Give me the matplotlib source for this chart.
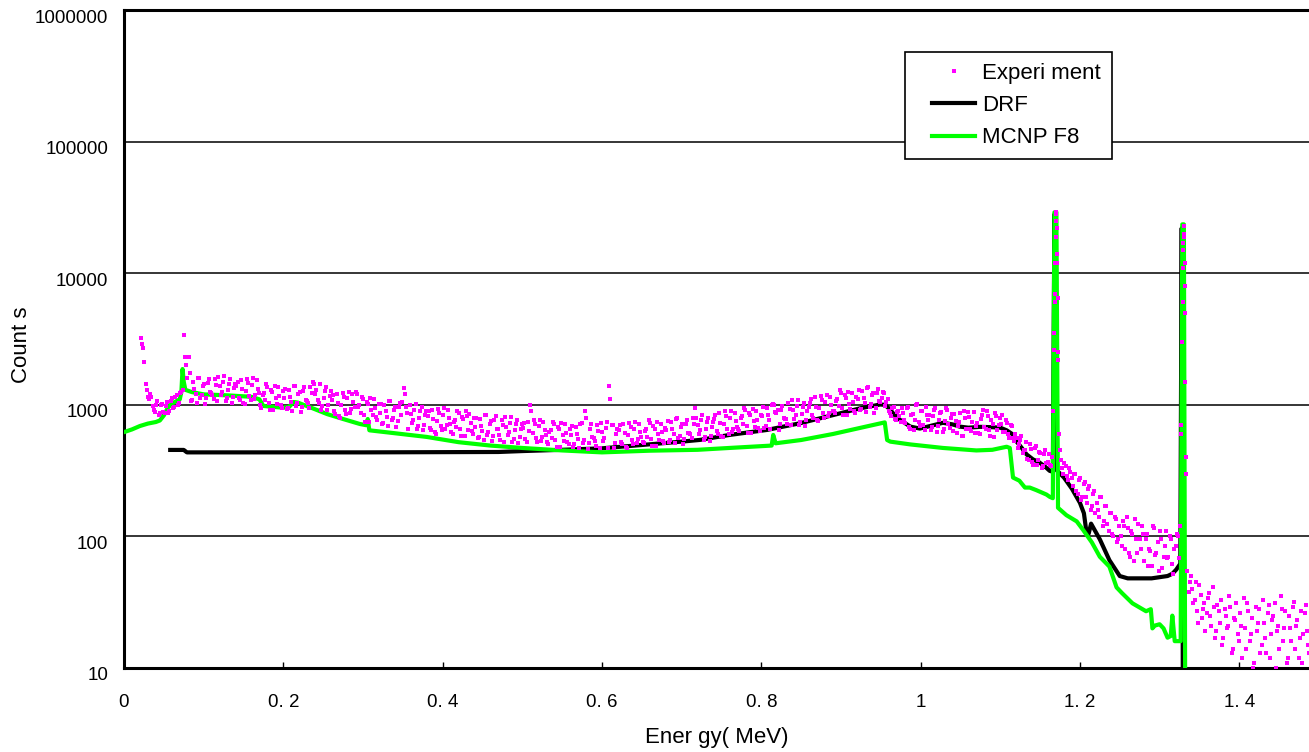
import numpy as np
import matplotlib
matplotlib.use("Agg")
import matplotlib.pyplot as plt
from matplotlib import transforms
from matplotlib.lines import Line2D
from matplotlib.legend_handler import HandlerLine2D
from matplotlib.ticker import NullLocator

FONT = ['Liberation Sans', 'DejaVu Sans']
plt.rcParams['font.family'] = FONT

# ---------------- data ----------------
# Experiment: channel energies start at 0.021 MeV, 0.003 MeV apart
exp_start = 0.021
exp_step = 0.003
exp_counts = [
    3200, 2700, 1450, 1150, 1200, 980, 880, 1060, 860, 1010,
    870, 1050, 900, 1120, 960, 1180, 1030, 1250, 3400, 2000,
    2300, 1070, 1500, 1210, 1590, 1130, 1380, 1010, 1460, 1250,
    1190, 1560, 1060, 1390, 1250, 1650, 1120, 1450, 1040, 1350,
    1380, 1130, 1540, 1040, 1270, 1460, 1080, 1590, 1180, 1330,
    990, 1180, 1080, 1370, 920, 1250, 1390, 1020, 1160, 950,
    1130, 930, 1300, 1050, 1380, 980, 1200, 880, 1270, 1080,
    1040, 1360, 1480, 1210, 1090, 1440, 980, 1270, 910, 1170,
    1090, 890, 1210, 820, 1000, 1150, 850, 1250, 930, 1050,
    1250, 960, 870, 1110, 740, 1010, 1130, 830, 940, 770,
    870, 710, 1000, 810, 1060, 760, 920, 680, 970, 840,
    1350, 960, 650, 850, 770, 1010, 690, 890, 640, 830,
    820, 670, 910, 620, 750, 870, 640, 940, 700, 790,
    620, 740, 680, 860, 580, 780, 900, 640, 730, 600,
    680, 560, 780, 630, 830, 590, 720, 530, 760, 650,
    590, 770, 520, 680, 620, 810, 550, 720, 510, 660,
    670, 550, 740, 1000, 610, 710, 520, 770, 570, 640,
    520, 620, 560, 710, 480, 650, 730, 530, 610, 500,
    590, 480, 680, 550, 720, 510, 900, 460, 660, 570,
    530, 700, 470, 620, 560, 740, 1380, 700, 470, 600,
    640, 520, 710, 480, 590, 680, 500, 740, 550, 620,
    520, 630, 570, 730, 490, 660, 740, 540, 620, 510,
    640, 520, 740, 600, 780, 560, 680, 500, 720, 610,
    600, 790, 950, 700, 640, 840, 570, 740, 530, 680,
    780, 630, 860, 580, 710, 820, 600, 890, 660, 750,
    660, 790, 720, 910, 610, 830, 930, 680, 770, 630,
    820, 670, 940, 760, 1000, 1000, 870, 640, 920, 790,
    780, 1030, 700, 910, 830, 1090, 740, 960, 690, 890,
    1030, 840, 1140, 770, 940, 1080, 800, 1180, 870, 990,
    890, 1070, 980, 1240, 830, 1130, 1260, 930, 1050, 860,
    1110, 910, 1280, 1030, 1350, 970, 1180, 870, 1240, 1070,
    1130, 1240, 1050, 900, 820, 960, 760, 900, 740, 860,
    730, 960, 650, 850, 770, 1010, 690, 890, 640, 830,
    830, 680, 920, 620, 760, 880, 650, 950, 710, 800,
    630, 750, 690, 870, 580, 800, 880, 650, 740, 610,
    730, 600, 840, 680, 890, 640, 770, 570, 820, 700,
    720, 620, 760, 600, 700, 560, 600, 470, 540, 430,
    450, 390, 500, 370, 470, 350, 440, 330, 420, 360,
    420, 340, 3500, 28000, 2200, 380, 300, 340, 270, 310,
    240, 300, 210, 280, 200, 260, 180, 240, 170, 220,
    180, 140, 200, 130, 170, 110, 150, 100, 135, 95,
    100, 130, 80, 115, 70, 105, 135, 75, 95, 120,
    65, 105, 80, 60, 115, 75, 55, 95, 70, 110,
    70, 95, 52, 85, 100, 120, 15000, 8000, 55, 45,
    40, 33, 27, 43, 24, 31, 26, 37, 21, 29,
    19, 27, 33, 17, 25, 21, 29, 14, 23, 18,
    26, 12, 20, 31, 16, 24, 11, 19, 28, 15,
    22, 13, 30, 18, 25, 10, 21, 35, 16, 27,
    12, 20, 29, 14, 23, 17, 11, 26, 19, 13,
]
# the in-between channels: start at 0.0225 MeV, same 0.003 MeV spacing
exp_mid_start = 0.0225
exp_mid_counts = [
    2900, 2100, 1300, 1100, 1150, 920, 1000, 830, 990, 880,
    980, 860, 1060, 940, 1140, 1000, 1220, 1300, 2300, 1600,
    1750, 1090, 1330, 1030, 1600, 1180, 1440, 1120, 1560, 1240,
    1100, 1410, 1640, 1190, 1490, 1060, 1290, 1560, 1150, 1450,
    1500, 1080, 1310, 1010, 1570, 1160, 1420, 1100, 1540, 1220,
    950, 1230, 1430, 1040, 1300, 920, 1130, 1360, 1000, 1270,
    1320, 950, 1150, 890, 1390, 1030, 1250, 970, 1360, 1070,
    950, 1230, 1430, 1300, 1040, 920, 1130, 1360, 1000, 1270,
    1180, 850, 1030, 800, 1240, 920, 1120, 870, 1210, 960,
    1200, 1000, 1150, 840, 1050, 740, 910, 1100, 810, 1020,
    1020, 730, 890, 690, 1070, 790, 970, 750, 1040, 1050,
    1200, 870, 1000, 730, 920, 650, 790, 960, 700, 890,
    890, 640, 780, 600, 930, 690, 840, 650, 910, 720,
    600, 770, 890, 650, 810, 580, 820, 850, 630, 790,
    800, 570, 690, 540, 840, 620, 750, 580, 820, 650,
    540, 700, 810, 590, 730, 520, 640, 770, 570, 720,
    730, 520, 630, 900, 760, 560, 690, 530, 740, 590,
    500, 640, 740, 540, 680, 480, 590, 710, 520, 660,
    690, 500, 600, 470, 730, 540, 800, 510, 710, 560,
    490, 630, 730, 530, 670, 470, 1100, 700, 510, 650,
    700, 500, 610, 470, 730, 540, 660, 510, 710, 570,
    510, 650, 760, 550, 690, 490, 600, 720, 530, 670,
    750, 540, 650, 510, 790, 580, 710, 550, 770, 610,
    560, 720, 800, 600, 760, 540, 660, 790, 580, 740,
    840, 600, 730, 570, 890, 660, 800, 620, 860, 680,
    630, 820, 950, 690, 860, 610, 750, 900, 670, 840,
    960, 690, 840, 650, 1010, 880, 910, 710, 980, 780,
    720, 930, 1080, 780, 980, 700, 850, 1030, 760, 960,
    1110, 800, 970, 750, 1170, 860, 1050, 820, 1140, 900,
    860, 1110, 1290, 940, 1180, 830, 1020, 1230, 900, 1140,
    1300, 930, 1130, 880, 1370, 1010, 1230, 950, 1330, 1050,
    1250, 980, 1100, 860, 940, 780, 880, 820, 950, 760,
    950, 680, 830, 640, 1000, 740, 900, 700, 970, 770,
    640, 820, 950, 690, 870, 620, 750, 910, 670, 850,
    850, 610, 740, 580, 900, 660, 810, 630, 880, 690,
    610, 780, 910, 660, 820, 580, 720, 860, 640, 800,
    840, 620, 730, 560, 690, 530, 560, 500, 580, 450,
    520, 380, 460, 350, 490, 380, 430, 340, 450, 370,
    350, 400, 6000, 12000, 450, 330, 360, 290, 330, 280,
    300, 220, 270, 190, 250, 200, 230, 160, 210, 150,
    160, 200, 120, 170, 125, 150, 105, 140, 90, 120,
    85, 120, 140, 75, 110, 65, 95, 125, 80, 105,
    95, 60, 78, 120, 72, 90, 110, 58, 85, 68,
    100, 62, 80, 105, 68, 600, 20000, 400, 38, 50,
    31, 45, 22, 36, 28, 19, 34, 25, 41, 17,
    30, 22, 15, 28, 20, 35, 13, 24, 31, 16,
    21, 34, 14, 27, 18, 10, 29, 22, 13, 33,
    17, 26, 12, 23, 31, 19, 14, 28, 20, 11,
    25, 16, 32, 21, 12, 27, 18, 30, 15, 24,
]
# extra experiment channels inside the two full-energy peaks
exp_peak_energy = [1.1665, 1.1675, 1.1685, 1.1690, 1.1695, 1.1700, 1.1705, 1.1710,
                   1.1715, 1.1720, 1.1725, 1.1735,
                   1.3275, 1.3285, 1.3290, 1.3295, 1.3300, 1.3305, 1.3310, 1.3315,
                   1.3320, 1.3325, 1.3335]
exp_peak_counts = [900, 2600, 7000, 12000, 19000, 25000, 29000, 22000,
                   14000, 6500, 2500, 600,
                   700, 3000, 6000, 11000, 17000, 23000, 19000, 12000,
                   5000, 1500, 300]

drf_energy = [0.058, 0.075, 0.079, 0.30, 0.47, 0.50, 0.55, 0.60, 0.65, 0.70, 0.723,
              0.76, 0.807, 0.849, 0.89, 0.924, 0.932, 0.949, 0.955, 0.961, 0.967,
              0.974, 0.987, 0.999, 1.012, 1.028, 1.040, 1.049, 1.060, 1.075, 1.091,
              1.100, 1.108, 1.115, 1.120, 1.127, 1.133, 1.141, 1.149, 1.156, 1.162,
              1.166, 1.168, 1.1705, 1.180, 1.190, 1.200, 1.205, 1.208, 1.211, 1.214,
              1.225, 1.237, 1.250, 1.260, 1.290, 1.310, 1.316, 1.321, 1.326, 1.3278,
              1.3295]
drf_counts = [454, 454, 435, 435, 438, 445, 455, 467, 495, 525, 541,
              590, 644, 725, 835, 940, 960, 1005, 1000, 930, 840,
              770, 683, 660, 690, 730, 710, 683, 670, 680, 675,
              670, 640, 600, 530, 470, 420, 385, 365, 340, 315,
              310, 28000, 320, 280, 230, 180, 150, 110, 105, 125,
              95, 66, 50, 48, 48, 50, 52, 56, 62, 22000,
              1]

mcnp_energy = [0.0, 0.01, 0.02, 0.03, 0.04, 0.045, 0.05, 0.055, 0.06, 0.065, 0.07,
               0.072, 0.0735, 0.075, 0.077, 0.085, 0.10, 0.13, 0.16, 0.17, 0.175,
               0.20, 0.207, 0.213, 0.218, 0.235, 0.255, 0.275, 0.296, 0.304, 0.306,
               0.308, 0.338, 0.38, 0.42, 0.46, 0.50, 0.55, 0.60, 0.66, 0.72,
               0.76, 0.80, 0.813, 0.815, 0.818, 0.85, 0.89, 0.93, 0.955, 0.958,
               0.962, 0.987, 1.028, 1.07, 1.09, 1.108, 1.112, 1.116, 1.124, 1.131,
               1.137, 1.145, 1.158, 1.162, 1.166, 1.168, 1.1705, 1.1725, 1.183, 1.196,
               1.204, 1.215, 1.225, 1.237, 1.246, 1.253, 1.266, 1.283, 1.289, 1.291,
               1.294, 1.300, 1.305, 1.310, 1.314, 1.316, 1.319, 1.3265, 1.3285, 1.3305,
               1.3325]
mcnp_counts = [620, 650, 690, 720, 740, 760, 830, 950, 1020, 1060, 1100,
               1250, 1870, 1500, 1300, 1250, 1200, 1180, 1150, 1100, 980,
               950, 960, 1050, 1040, 950, 850, 780, 715, 700, 780,
               640, 610, 570, 520, 490, 470, 450, 435, 448, 455,
               470, 485, 490, 590, 510, 540, 600, 680, 735, 540,
               525, 500, 470, 450, 455, 480, 470, 280, 265, 235,
               235, 225, 208, 200, 195, 29000, 29000, 165, 145, 130,
               112, 90, 70, 59, 41, 37, 31, 27, 28, 20,
               21, 21.5, 20, 17, 17.5, 25, 16, 16, 23500, 23500,
               1]

x_ticks = [0, 0.2, 0.4, 0.6, 0.8, 1.0, 1.2, 1.4]
x_tick_labels = ['0', '0. 2', '0. 4', '0. 6', '0. 8', '1', '1. 2', '1. 4']
y_ticks = [10, 100, 1000, 10000, 100000, 1000000]
y_tick_labels = ['10', '100', '1000', '10000', '100000', '1000000']

exp_energy = exp_start + exp_step * np.arange(len(exp_counts))
exp_mid_energy = exp_mid_start + exp_step * np.arange(len(exp_mid_counts))

# ---------------- figure ----------------
W, H = 1309, 752
fig = plt.figure(figsize=(W / 100, H / 100), dpi=100)
ax = fig.add_axes([124 / W, 84 / H, 1185 / W, 658 / H])

MAG = '#FF00FF'
GRN = '#00FF00'
MS = 3.2

ax.plot(drf_energy, drf_counts, color='black', lw=3.0, zorder=3,
        solid_joinstyle='round')
ax.plot(mcnp_energy, mcnp_counts, color=GRN, lw=3.0, zorder=4,
        solid_joinstyle='round')
for xs, ys in [(exp_energy, exp_counts), (exp_mid_energy, exp_mid_counts),
               (exp_peak_energy, exp_peak_counts)]:
    ax.plot(xs, ys, ls='none', marker='s', ms=MS, mew=0, color=MAG, zorder=5)

ax.set_yscale('log')
ax.set_ylim(10, 1e6)
ax.set_xlim(0, 1185 / 796.6)

ax.set_yticks(y_ticks)
ax.set_yticklabels(y_tick_labels)
ax.yaxis.set_minor_locator(NullLocator())
ax.set_xticks(x_ticks)
ax.set_xticklabels(x_tick_labels)
ax.xaxis.set_minor_locator(NullLocator())

ax.yaxis.grid(True, color='black', lw=1.1)
ax.set_axisbelow(True)

ax.tick_params(axis='y', length=0, pad=11.5, labelsize=13.5, colors='black')
ax.tick_params(axis='x', direction='in', length=4, width=1, pad=19,
               labelsize=13.5, colors='black')

offset = transforms.ScaledTranslation(0, -6 / 100, fig.dpi_scale_trans)
for lab in ax.get_yticklabels():
    lab.set_transform(lab.get_transform() + offset)

for side in ['left', 'bottom', 'top']:
    ax.spines[side].set_linewidth(2.2)
    ax.spines[side].set_color('black')
ax.spines['right'].set_visible(False)

ax.set_xlabel('Ener gy( MeV)', fontsize=16)
ax.xaxis.label.set_va('center')
ax.xaxis.set_label_coords(0.5, (668 - 738) / 658)
ax.set_ylabel('Count s', fontsize=16)
ax.yaxis.label.set_va('center')
ax.yaxis.set_label_coords((22 - 124) / 1185, 0.5 - 6 / 658)

handles = [
    Line2D([], [], ls='none', marker='s', ms=2.6, mew=0, color=MAG),
    Line2D([], [], color='black', lw=3.0),
    Line2D([], [], color=GRN, lw=3.0),
]
labels = ['Experi ment', 'DRF', 'MCNP F8']
leg = ax.legend(handles, labels, loc='upper left',
                bbox_to_anchor=((905 - 124) / 1185, (668 - 52) / 658),
                frameon=True, fancybox=False, edgecolor='black', framealpha=1,
                fontsize=16, handlelength=2.66, handletextpad=0.32,
                labelspacing=0.5, borderpad=0.5, borderaxespad=0, numpoints=1,
                handler_map={Line2D: HandlerLine2D(xpad=0.72)})
leg.get_frame().set_linewidth(1.2)
leg.set_zorder(10)

fig.savefig('out.png', dpi=100)
